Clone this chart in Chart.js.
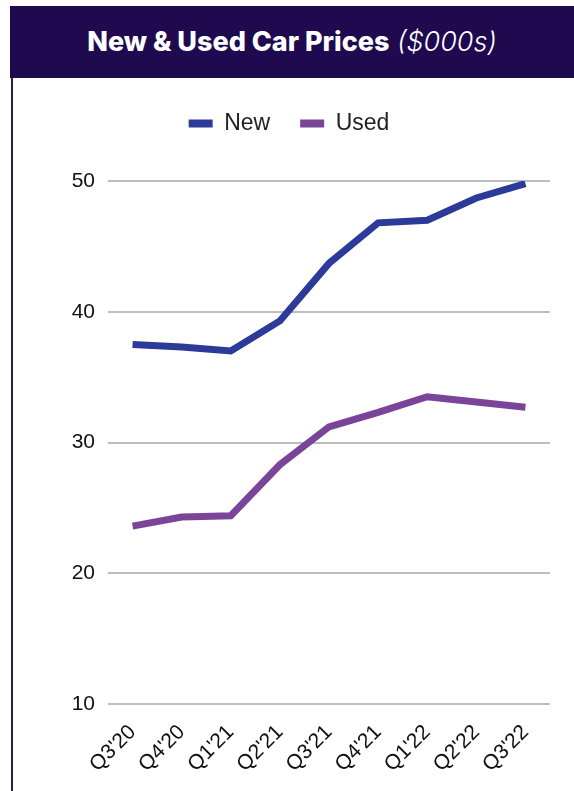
<!DOCTYPE html>
<html>
<head>
<meta charset="utf-8">
<script src="https://cdn.jsdelivr.net/npm/chart.js@4/dist/chart.umd.min.js"></script>
<style>
  body { margin: 0; background: #fff; width: 574px; height: 791px; position: relative; overflow: hidden; }
  #header {
    position: absolute; left: 10px; top: 6px; width: 564px; height: 72px;
    background: #1f0a50; color: #fff; text-align: center;
    font-family: Inter, "Open Sans", sans-serif; font-size: 27px; line-height: 72px;
  }
  #header b { font-weight: 800; }
  #header i { font-weight: 300; }
  #rule { position: absolute; left: 11px; top: 78px; width: 2px; height: 713px; background: #2a1a60; }
  #wrap { position: absolute; left: 14px; top: 78px; width: 560px; height: 713px; }
</style>
</head>
<body>
<div id="header"><b>New &amp; Used Car Prices</b> <i>($000s)</i></div>
<div id="rule"></div>
<div id="wrap"><canvas id="chart"></canvas></div>
<script>
// quarters on the x axis
const quarters = ["Q3'20", "Q4'20", "Q1'21", "Q2'21", "Q3'21", "Q4'21", "Q1'22", "Q2'22", "Q3'22"];
// average price, $000s
const newPrices = [37.5, 37.3, 37.0, 39.3, 43.7, 46.8, 47.0, 48.7, 49.8];
const usedPrices = [23.6, 24.3, 24.4, 28.3, 31.2, 32.3, 33.5, 33.1, 32.7];
const yTicks = [10, 20, 30, 40, 50];

const fontFamily = "'Liberation Sans', Arial, sans-serif";

// give the legend some extra room below it
const legendSpace = {
  id: 'legendSpace',
  beforeUpdate(chart) {
    const lg = chart.legend;
    if (!lg || lg._spaced) return;
    const fit = lg.fit;
    lg.fit = function () { fit.call(this); this.height += 36; };
    lg._spaced = true;
  }
};

new Chart(document.getElementById('chart'), {
  type: 'line',
  data: {
    labels: quarters,
    datasets: [
      { label: 'New', data: newPrices, borderColor: '#2c3a9a', backgroundColor: '#2c3a9a',
        borderWidth: 7, pointRadius: 0, tension: 0 },
      { label: 'Used', data: usedPrices, borderColor: '#7a4599', backgroundColor: '#7a4599',
        borderWidth: 7, pointRadius: 0, tension: 0 }
    ]
  },
  plugins: [legendSpace],
  options: {
    responsive: true,
    maintainAspectRatio: false,
    animation: false,
    layout: { padding: { left: 14, right: 24, top: 4, bottom: 0 } },
    plugins: {
      legend: {
        position: 'top',
        labels: {
          boxWidth: 24, boxHeight: 8, padding: 30,
          color: '#222', font: { family: fontFamily, size: 23 },
          generateLabels(chart) {
            const items = Chart.defaults.plugins.legend.labels.generateLabels(chart);
            items.forEach(it => { it.lineWidth = 0; });
            return items;
          }
        }
      },
      tooltip: { enabled: false }
    },
    scales: {
      x: {
        offset: true,
        grid: { display: false },
        border: { display: false },
        ticks: { color: '#111', font: { family: fontFamily, size: 21 }, maxRotation: 45, minRotation: 45, padding: 8 },
        afterFit: s => { s.height = 87; }
      },
      y: {
        min: 10, max: 50,
        afterBuildTicks: s => { s.ticks = yTicks.map(v => ({ value: v })); },
        grid: { color: '#bdbdbd', lineWidth: 2, drawTicks: false },
        border: { display: false },
        ticks: { color: '#111', font: { family: fontFamily, size: 21 }, padding: 13 },
        afterFit: s => { s.width = 80; }
      }
    }
  }
});
</script>
</body>
</html>
